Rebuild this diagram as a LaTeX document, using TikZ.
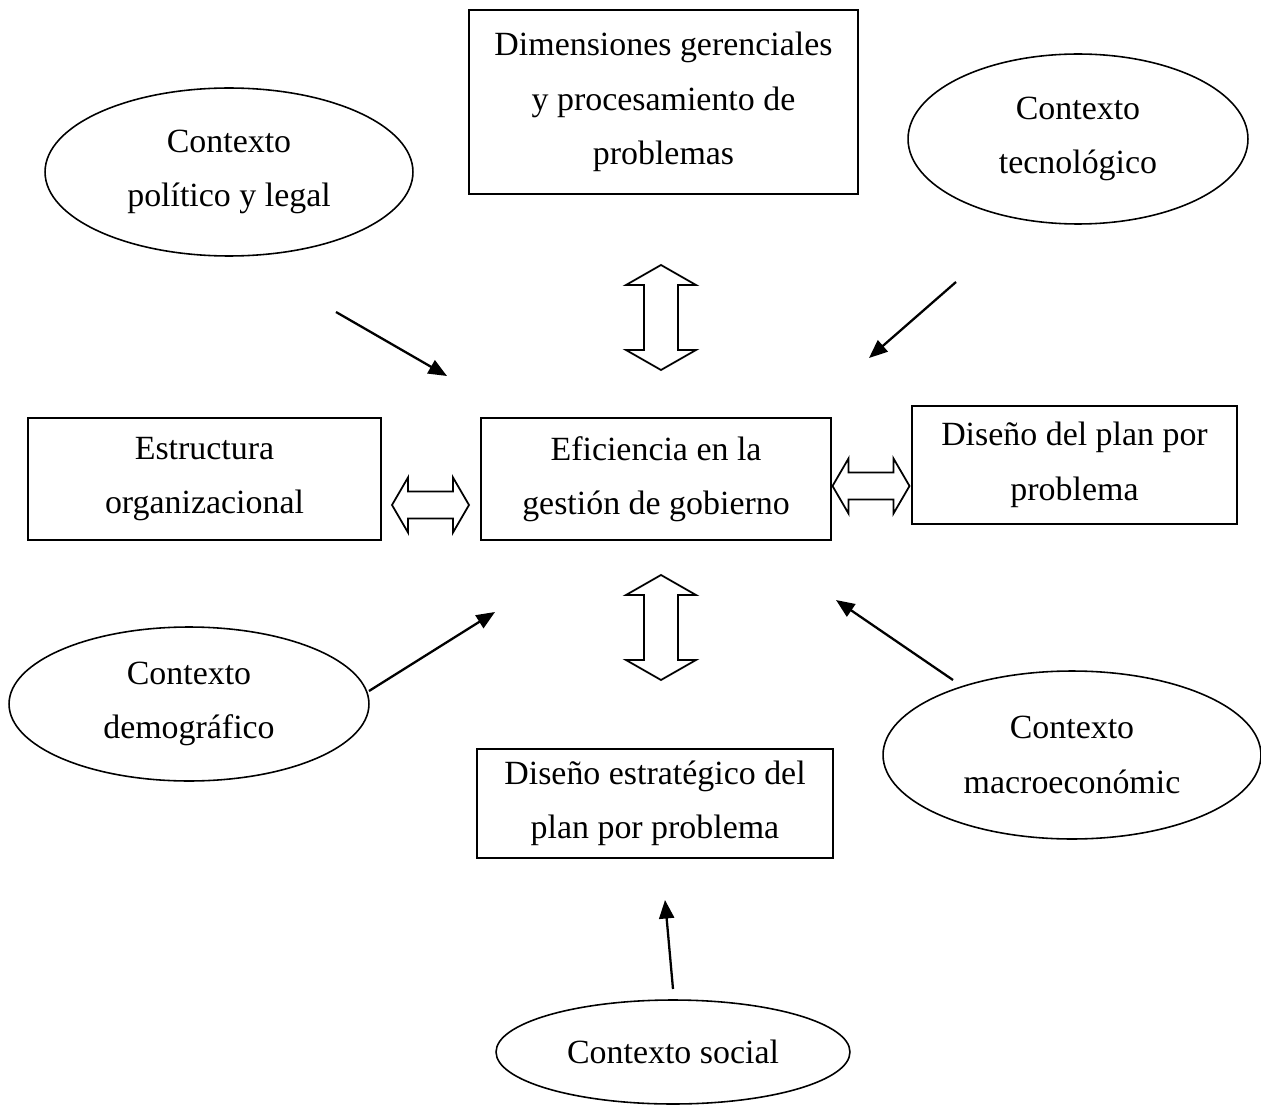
\documentclass[tikz,border=0pt]{standalone}
\usepackage{fontspec}
\setmainfont{Liberation Serif}
\usetikzlibrary{shapes.geometric,arrows.meta}

\tikzset{
  caja/.style={draw, line width=1.1pt, inner sep=0pt, align=center,
    font=\fontsize{19.3}{31}\selectfont},
  elipse/.style={draw, ellipse, line width=0.9pt, inner sep=0pt, align=center,
    font=\fontsize{19.3}{31}\selectfont},
  flecha/.style={line width=1.3pt, -{Triangle[length=0.37cm,width=0.3cm]}},
  % hollow double arrows
  dobleh/.pic={\draw[line width=1pt, fill=white] (-38.5,0) -- (-22.5,-27.5) -- (-22.5,-13.5) -- (22.5,-13.5)
    -- (22.5,-27.5) -- (38.5,0) -- (22.5,27.5) -- (22.5,13.5) -- (-22.5,13.5) -- (-22.5,27.5) -- cycle;},
  doblev/.pic={\draw[line width=1pt, fill=white] (0,-52.5) -- (35,-32.5) -- (17,-32.5) -- (17,32.5)
    -- (35,32.5) -- (0,52.5) -- (-35,32.5) -- (-17,32.5) -- (-17,-32.5) -- (-35,-32.5) -- cycle;}
}

\begin{document}
\begin{tikzpicture}[x=0.02cm,y=-0.02cm]
	\useasboundingbox (0,0) rectangle (1261,1108);

	% top row
	\node[caja, minimum width=7.78cm, minimum height=3.68cm] (dim) at (663.5,102)
	     {Dimensiones gerenciales\\ y procesamiento de\\ problemas};
	\node[elipse, minimum width=7.36cm, minimum height=3.36cm] (pol) at (229,172)
	     {Contexto\\ político y legal};
	\node[elipse, minimum width=6.8cm, minimum height=3.4cm] (tec) at (1078,139)
	     {Contexto\\ tecnológico};

	% middle row
	\node[caja, minimum width=7.06cm, minimum height=2.44cm] (org) at (204.5,479)
	     {Estructura\\ organizacional};
	\node[caja, minimum width=7cm, minimum height=2.44cm] (efi) at (656,479)
	     {Eficiencia en la\\ gestión de gobierno};
	\node[caja, minimum width=6.5cm, minimum height=2.36cm] (plan) at (1074.5,465)
	     {Diseño del plan por\\ problema};

	% bottom part
	\node[elipse, minimum width=7.2cm, minimum height=3.08cm] (dem) at (189,704)
	     {Contexto\\ demográfico};
	\node[elipse, minimum width=7.56cm, minimum height=3.36cm] (mac) at (1072,755)
	     {Contexto\\ macroeconómic};
	\node[caja, minimum width=7.12cm, minimum height=2.18cm] (estr) at (655,803.5)
	     {Diseño estratégico del\\ plan por problema};
	\node[elipse, minimum width=7.08cm, minimum height=2.08cm] (soc) at (673,1052)
	     {Contexto social};

	\pic at (661,317.5) {doblev};
	\pic at (661,627.5) {doblev};
	\pic at (430.5,505) {dobleh};
	\pic at (871,486) {dobleh};

	\coordinate (a1) at (336,312);  \coordinate (b1) at (447,376);
	\coordinate (a2) at (956,282);  \coordinate (b2) at (869,358);
	\coordinate (a3) at (369,691);  \coordinate (b3) at (495,612);
	\coordinate (a4) at (953,680);  \coordinate (b4) at (836,600);
	\coordinate (a5) at (673,989);  \coordinate (b5) at (665,900);

	\draw[flecha] (a1) -- (b1);
	\draw[flecha] (a2) -- (b2);
	\draw[flecha] (a3) -- (b3);
	\draw[flecha] (a4) -- (b4);
	\draw[flecha] (a5) -- (b5);

\end{tikzpicture}
\end{document}
